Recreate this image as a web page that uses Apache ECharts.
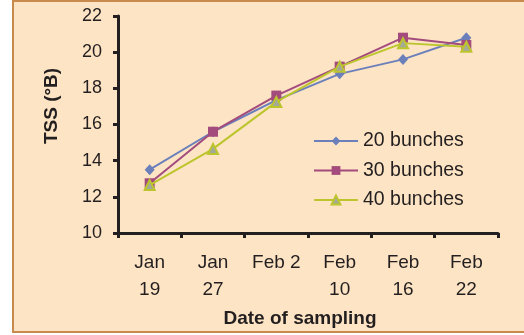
<!DOCTYPE html>
<html>
<head>
<meta charset="utf-8">
<script src="https://cdn.jsdelivr.net/npm/echarts@6/dist/echarts.min.js"></script>
<style>
  html, body { margin: 0; padding: 0; background: #ffffff; }
  #chart { width: 524px; height: 335px; }
</style>
</head>
<body>
<div id="chart"></div>
<script>
// Sampling dates (two-line axis labels)
const dates = ['Jan\n19', 'Jan\n27', 'Feb 2\n', 'Feb\n10', 'Feb\n16', 'Feb\n22'];

// Total soluble solids (°B) per bunch load
const bunches20 = [13.5, 15.6, 17.35, 18.8, 19.6, 20.8];
const bunches30 = [12.75, 15.6, 17.6, 19.2, 20.8, 20.4];
const bunches40 = [12.65, 14.65, 17.25, 19.2, 20.5, 20.3];

const yTicks = { min: 10, max: 22, step: 2 };

const ink = '#231f20';
const font = '"Liberation Sans", Arial, Helvetica, sans-serif';

const chart = echarts.init(document.getElementById('chart'), null, { renderer: 'canvas' });

chart.setOption({
  animation: false,
  backgroundColor: '#ffffff',
  graphic: [
    {
      type: 'rect',
      z: -10,
      shape: { x: 13, y: 1, width: 700, height: 331 },
      style: { fill: '#fde4c4', stroke: '#c98a4e', lineWidth: 2 }
    },
    {
      type: 'text',
      x: 52, y: 106,
      rotation: Math.PI / 2,
      style: {
        text: 'TSS (°B)', fill: ink, font: 'bold 19px ' + font,
        textAlign: 'center', textVerticalAlign: 'middle'
      }
    },
    {
      type: 'text',
      x: 300, y: 319,
      style: {
        text: 'Date of sampling', fill: ink, font: 'bold 19px ' + font,
        textAlign: 'center', textVerticalAlign: 'middle'
      }
    }
  ],
  grid: { left: 118, right: 26, top: 16, bottom: 102, containLabel: false },
  legend: {
    orient: 'vertical',
    left: 308,
    top: 126,
    itemWidth: 44,
    itemHeight: 11,
    itemGap: 9.5,
    textStyle: { color: ink, fontSize: 19.5, fontFamily: font, lineHeight: 20, padding: [0, 0, 0, 0] },
    data: ['20 bunches', '30 bunches', '40 bunches']
  },
  xAxis: {
    type: 'category',
    data: dates,
    boundaryGap: true,
    axisLine: { lineStyle: { color: ink, width: 3 } },
    axisTick: { show: true, length: 5, inside: false, lineStyle: { color: ink, width: 3 } },
    axisLabel: {
      color: ink, fontSize: 19, fontFamily: font, lineHeight: 27.5,
      margin: 16, interval: 0
    },
    splitLine: { show: false }
  },
  yAxis: {
    type: 'value',
    min: yTicks.min,
    max: yTicks.max,
    interval: yTicks.step,
    axisLine: { show: true, lineStyle: { color: ink, width: 3 } },
    axisTick: { show: true, length: 5, lineStyle: { color: ink, width: 3 } },
    axisLabel: { color: ink, fontSize: 18, fontFamily: font, margin: 16 },
    splitLine: { show: false }
  },
  series: [
    {
      name: '20 bunches',
      type: 'line',
      data: bunches20,
      symbol: 'diamond',
      symbolSize: [10, 11],
      lineStyle: { color: '#6b80bb', width: 2 },
      itemStyle: { color: '#6b80bb' },
      z: 3
    },
    {
      name: '30 bunches',
      type: 'line',
      data: bunches30,
      symbol: 'rect',
      symbolSize: 10,
      lineStyle: { color: '#a34b7c', width: 2 },
      itemStyle: { color: '#a34b7c' },
      z: 4
    },
    {
      name: '40 bunches',
      type: 'line',
      data: bunches40,
      symbol: 'triangle',
      symbolSize: 10,
      lineStyle: { color: '#bcc52c', width: 2 },
      itemStyle: { color: '#a4aa98', borderColor: '#bcc52c', borderWidth: 2 },
      z: 5
    }
  ]
});
</script>
</body>
</html>
